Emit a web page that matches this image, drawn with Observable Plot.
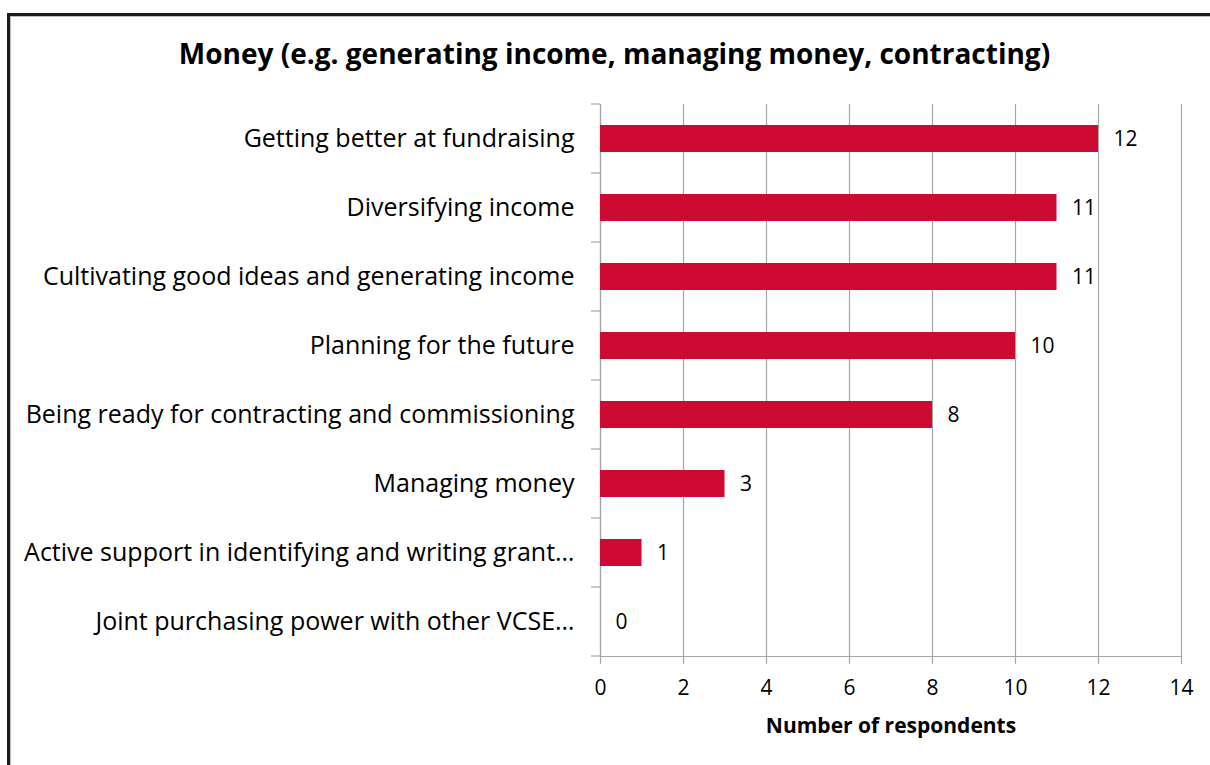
<!DOCTYPE html>
<html>
<head>
<meta charset="utf-8">
<script src="https://cdn.jsdelivr.net/npm/d3@7"></script>
<script src="https://cdn.jsdelivr.net/npm/@observablehq/plot@0.6"></script>
<style>
  html, body { margin: 0; padding: 0; background: #fff; }
  body { width: 1210px; height: 765px; overflow: hidden; position: relative; font-family: "Open Sans", sans-serif; }
  #frame { position: absolute; left: 7px; top: 13px; width: 1230px; height: 800px; border: 3px solid #1c1c1c; box-shadow: inset 1px 1px 0 #bdbdbd; z-index: 5; pointer-events: none; }
  #title { position: absolute; left: 0; top: 34px; width: 1229px; text-align: center; font-weight: bold; font-size: 28px; color: #000; }
  #chart { position: absolute; left: 0; top: 80px; }
</style>
</head>
<body>
<div id="frame"></div>
<div id="title">Money (e.g. generating income, managing money, contracting)</div>
<div id="chart"></div>
<script>
const categories = [
  "Getting better at fundraising",
  "Diversifying income",
  "Cultivating good ideas and generating income",
  "Planning for the future",
  "Being ready for contracting and commissioning",
  "Managing money",
  "Active support in identifying and writing grant…",
  "Joint purchasing power with other VCSE…"
];
const values = [12, 11, 11, 10, 8, 3, 1, 0];
const xTicks = [0, 2, 4, 6, 8, 10, 12, 14];
const axisTitle = "Number of respondents";

const data = categories.map((c, i) => ({category: c, value: values[i]}));

const W = 1210, H = 680;
const mTop = 24, mBottom = 104, mLeft = 600, mRight = 29;
const grid = "#a6a6a6";

const chart = Plot.plot({
  width: W,
  height: H,
  marginTop: mTop,
  marginBottom: mBottom,
  marginLeft: mLeft,
  marginRight: mRight,
  style: {fontFamily: "'Open Sans', sans-serif", color: "#000", background: "transparent", overflow: "visible"},
  x: {domain: [0, 14]},
  y: {domain: categories, padding: 0, label: null},
  marks: [
    Plot.gridX(xTicks, {stroke: grid, strokeOpacity: 1, strokeWidth: 1.2}),
    Plot.ruleX([0], {stroke: grid, strokeWidth: 1.2}),
    Plot.frame({anchor: "bottom", stroke: grid, strokeWidth: 1.2}),
    Plot.barX(data, {y: "category", x: "value", fill: "#cc0a32", insetTop: 21, insetBottom: 21}),
    Plot.text(data, {y: "category", x: "value", text: d => String(d.value), textAnchor: "start", dx: 15, fontSize: 21, fill: "#000"}),
    Plot.axisY({tickSize: 0, tickPadding: 26, fontSize: 25, fill: "#000", label: null}),
    Plot.axisX(xTicks, {tickSize: 8, tickPadding: 16, fontSize: 21, stroke: grid, strokeWidth: 1.2, fill: "#000", label: null}),
    Plot.text([axisTitle], {frameAnchor: "bottom", dy: 76, fontSize: 21, fontWeight: "bold", fill: "#000"})
  ]
});

document.getElementById("chart").appendChild(chart);
// boundary ticks on the left axis (between categories), from the y band scale
const ys = chart.scale("y");
const svg = d3.select(chart);
const g = svg.append("g").attr("stroke", grid).attr("stroke-width", 1.2);
const bounds = categories.map(c => ys.apply(c)).concat([ys.apply(categories[categories.length - 1]) + ys.bandwidth]);
g.selectAll("line").data(bounds).join("line")
  .attr("x1", mLeft - 9).attr("x2", mLeft)
  .attr("y1", d => d).attr("y2", d => d);
</script>
</body>
</html>
